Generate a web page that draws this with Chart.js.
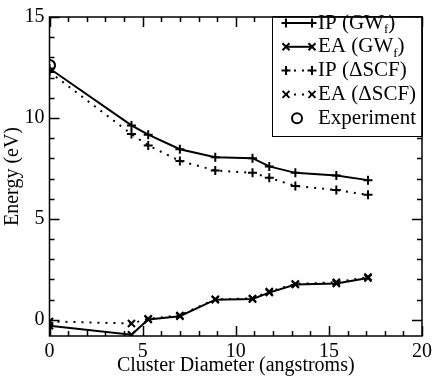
<!DOCTYPE html>
<html>
<head>
<meta charset="utf-8">
<script src="https://cdn.jsdelivr.net/npm/chart.js@4"></script>
<style>
  body { margin: 0; background: #fff; }
</style>
</head>
<body>
<canvas id="grafico" width="436" height="381"></canvas>
<script>
// dados
const diameters = [0, 4.4, 5.3, 7.0, 8.9, 10.9, 11.8, 13.2, 15.4, 17.1];
const ipGW = [12.45, 9.63, 9.17, 8.45, 8.05, 8.01, 7.6, 7.28, 7.15, 6.92];
const eaGW = [-0.29, -0.74, 0.02, 0.18, 1.0, 1.03, 1.35, 1.75, 1.8, 2.07];
const ipSCF = [12.28, 9.2, 8.64, 7.87, 7.4, 7.28, 7.04, 6.63, 6.43, 6.19];
const eaSCF = [-0.08, -0.18, 0.05, 0.22, 1.02, 1.06, 1.4, 1.78, 1.86, 2.12];
const expX = [0];
const expY = [12.6];

const xTicks = [0, 5, 10, 15, 20];
const yTicks = [0, 5, 10, 15];
const legendLabels = ["IP (GW_f)", "EA (GW_f)", "IP (\u0394SCF)", "EA (\u0394SCF)", "Experiment"];

const FONT = "'Liberation Serif', 'DejaVu Serif', serif";

function pts(xs, ys) {
  return xs.map((x, i) => ({ x: x, y: ys[i] }));
}

function serie(label, ys, style, dotted) {
  return {
    label: label,
    data: pts(diameters, ys),
    showLine: true,
    borderColor: "#000",
    borderWidth: 2,
    borderDash: dotted ? [2, 6] : [],
    pointStyle: style,
    pointRadius: style === "cross" ? 4.5 : 5,
    pointBorderWidth: 2,
    pointBackgroundColor: "#000",
    pointBorderColor: "#000",
  };
}

// moldura + ticks para dentro nos quatro lados
const frameTicks = {
  id: "frameTicks",
  afterDatasetsDraw(chart) {
    const c = chart.ctx;
    const a = chart.chartArea;
    const sx = chart.scales.x, sy = chart.scales.y;
    c.save();
    c.setLineDash([]);
    c.strokeStyle = "#000";
    c.lineWidth = 1.5;
    c.strokeRect(a.left, a.top, a.right - a.left, a.bottom - a.top);
    for (let v = 0; v <= 20; v++) {
      const px = Math.round(sx.getPixelForValue(v)) + 0.5;
      const len = v % 5 === 0 ? 10 : 5;
      c.beginPath();
      c.moveTo(px, a.bottom); c.lineTo(px, a.bottom - len);
      c.moveTo(px, a.top); c.lineTo(px, a.top + len);
      c.stroke();
    }
    for (let v = 0; v <= 15; v++) {
      const py = Math.round(sy.getPixelForValue(v)) + 0.5;
      const len = v % 5 === 0 ? 10 : 5;
      c.beginPath();
      c.moveTo(a.left, py); c.lineTo(a.left + len, py);
      c.moveTo(a.right, py); c.lineTo(a.right - len, py);
      c.stroke();
    }
    c.restore();
  },
};

function drawMarker(c, style, x, y) {
  if (style === "circle") {
    c.beginPath();
    c.arc(x, y, 5, 0, Math.PI * 2);
    c.stroke();
  } else if (style === "cross") {
    c.beginPath();
    c.moveTo(x - 4.5, y); c.lineTo(x + 4.5, y);
    c.moveTo(x, y - 4.5); c.lineTo(x, y + 4.5);
    c.stroke();
  } else {
    const d = 3.5;
    c.beginPath();
    c.moveTo(x - d, y - d); c.lineTo(x + d, y + d);
    c.moveTo(x - d, y + d); c.lineTo(x + d, y - d);
    c.stroke();
  }
}

function drawLabel(c, text, x, y) {
  const parts = text.split(/_(\w)/);
  let cx = x;
  parts.forEach((p, i) => {
    if (i % 2 === 1) {
      c.font = "13px " + FONT;
      c.fillText(p, cx, y + 7);
    } else {
      c.font = "21px " + FONT;
      c.fillText(p, cx, y);
    }
    cx += c.measureText(p).width;
  });
}

// legenda desenhada à mão (subscrito + amostras com marcadores)
const legendaBox = {
  id: "legendaBox",
  afterDraw(chart) {
    const c = chart.ctx;
    const a = chart.chartArea;
    const left = 272.5, top = a.top, right = a.right, bottom = 136.5;
    c.save();
    c.fillStyle = "#fff";
    c.fillRect(left, top, right - left, bottom - top);
    c.strokeStyle = "#000";
    c.lineWidth = 1;
    c.strokeRect(left, top, right - left, bottom - top);
    c.lineWidth = 1.5;
    c.beginPath();
    c.moveTo(left, top); c.lineTo(right, top); c.lineTo(right, bottom);
    c.stroke();
    c.fillStyle = "#000";
    c.textBaseline = "middle";
    chart.data.datasets.forEach((ds, i) => {
      const y = 23 + i * 23.8;
      c.strokeStyle = "#000";
      c.lineWidth = 2;
      if (ds.showLine) {
        c.setLineDash(ds.borderDash);
        c.beginPath();
        c.moveTo(286, y); c.lineTo(312, y);
        c.stroke();
        c.setLineDash([]);
        drawMarker(c, ds.pointStyle, 286, y);
        drawMarker(c, ds.pointStyle, 312, y);
      } else {
        drawMarker(c, ds.pointStyle, 297, y);
      }
      drawLabel(c, legendLabels[i], 318, y);
    });
    c.restore();
  },
};

const ctx = document.getElementById("grafico");

new Chart(ctx, {
  type: "scatter",
  data: {
    datasets: [
      serie("IP (GWf)", ipGW, "cross", false),
      serie("EA (GWf)", eaGW, "crossRot", false),
      serie("IP (\u0394SCF)", ipSCF, "cross", true),
      serie("EA (\u0394SCF)", eaSCF, "crossRot", true),
      {
        label: "Experiment",
        data: pts(expX, expY),
        showLine: false,
        pointStyle: "circle",
        pointRadius: 5.5,
        pointBorderWidth: 2,
        pointBorderColor: "#000",
        pointBackgroundColor: "rgba(0,0,0,0)",
      },
    ],
  },
  options: {
    responsive: false,
    animation: false,
    layout: { padding: { top: 7.7, right: 12, left: 0, bottom: 0 } },
    plugins: {
      legend: { display: false },
      tooltip: { enabled: false },
    },
    scales: {
      x: {
        type: "linear",
        min: 0,
        max: 20,
        grid: { display: false, drawTicks: false },
        border: { display: false },
        afterBuildTicks: (s) => { s.ticks = xTicks.map((v) => ({ value: v })); },
        afterFit: (s) => { s.height = 45; },
        ticks: { color: "#000", padding: 4, font: { family: FONT, size: 20 } },
        title: {
          display: true,
          text: "Cluster Diameter (angstroms)",
          color: "#000",
          padding: { top: 0, bottom: 3 },
          font: { family: FONT, size: 20 },
        },
      },
      y: {
        type: "linear",
        min: -0.8,
        max: 15,
        grid: { display: false, drawTicks: false },
        border: { display: false },
        afterBuildTicks: (s) => { s.ticks = yTicks.map((v) => ({ value: v })); },
        afterFit: (s) => { s.width = 49.5; },
        ticks: { color: "#000", padding: 5, font: { family: FONT, size: 20 } },
        title: {
          display: true,
          text: "Energy (eV)",
          color: "#000",
          padding: { top: 1, bottom: 0 },
          font: { family: FONT, size: 20 },
        },
      },
    },
  },
  plugins: [frameTicks, legendaBox],
});
</script>
</body>
</html>
